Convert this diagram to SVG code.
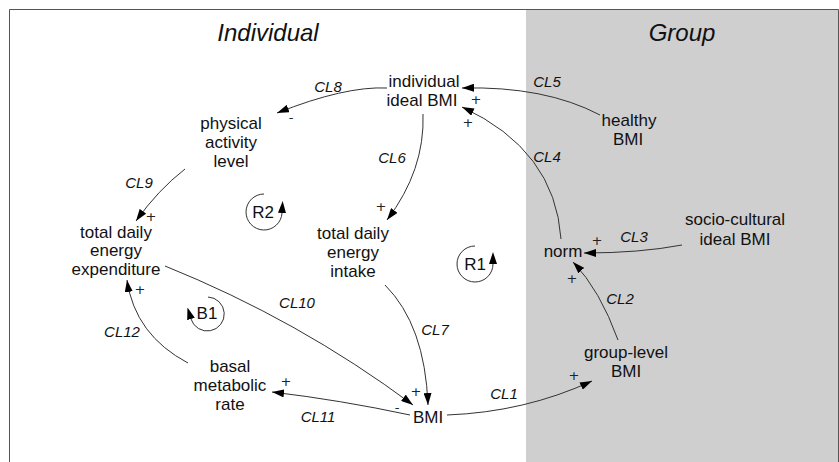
<svg xmlns="http://www.w3.org/2000/svg" width="839" height="462" viewBox="0 0 839 462">
<style>
.n{font-family:"Liberation Sans",Arial,sans-serif;font-size:17px;fill:#111;text-anchor:middle}
.l{font-family:"Liberation Sans",Arial,sans-serif;font-size:15px;font-style:italic;fill:#111;text-anchor:middle}
.t{font-family:"Liberation Sans",Arial,sans-serif;font-size:24px;font-style:italic;fill:#111;text-anchor:middle}
.s{font-family:"DejaVu Sans",sans-serif;font-size:13px;fill:#222;text-anchor:middle}
.c{fill:none;stroke:#333;stroke-width:1}
</style>
<defs>
<marker id="ah" viewBox="0 0 12 8" refX="12" refY="4" markerWidth="12" markerHeight="8" orient="auto" markerUnits="userSpaceOnUse"><path d="M0,0 L12,4 L0,8 z" fill="#000"/></marker>
<marker id="lp" viewBox="0 0 12 8" refX="0" refY="4" markerWidth="12" markerHeight="8" orient="auto" markerUnits="userSpaceOnUse"><path d="M0,0 L12,4 L0,8 z" fill="#000"/></marker>
</defs>
<rect x="0" y="0" width="839" height="462" fill="#fff"/>
<rect x="526" y="9" width="312" height="453" fill="#cfcfcf"/>
<path d="M9.5,462 V9.5 H838.5 V462" fill="none" stroke="#555" stroke-width="1"/>
<text class="t" x="268" y="41">Individual</text>
<text class="t" x="682" y="41">Group</text>

<g id="connectors">
<path class="c" d="M387,88 Q345,86 277,113" marker-end="url(#ah)"/>
<text class="l" x="328" y="92">CL8</text><text class="s" x="291" y="122">-</text>
<path class="c" d="M600,115 Q545,86 462,88" marker-end="url(#ah)"/>
<text class="l" x="547" y="87">CL5</text><text class="s" x="476" y="104">+</text>
<path class="c" d="M561,239 Q555,150 462,107" marker-end="url(#ah)"/>
<text class="l" x="547" y="162">CL4</text><text class="s" x="468" y="127">+</text>
<path class="c" d="M423,114 Q425,170 387,220" marker-end="url(#ah)"/>
<text class="l" x="392" y="163">CL6</text><text class="s" x="381" y="211">+</text>
<path class="c" d="M185,169 Q158,190 136,221" marker-end="url(#ah)"/>
<text class="l" x="139" y="188">CL9</text><text class="s" x="151" y="221">+</text>
<path class="c" d="M165,266 Q299,320 413,405" marker-end="url(#ah)"/>
<text class="l" x="297" y="308">CL10</text><text class="s" x="397" y="412">-</text>
<path class="c" d="M385,285 Q425,325 428,405" marker-end="url(#ah)"/>
<text class="l" x="435" y="335">CL7</text><text class="s" x="416" y="396">+</text>
<path class="c" d="M410,415 Q340,400 272,392" marker-end="url(#ah)"/>
<text class="l" x="318" y="422">CL11</text><text class="s" x="286" y="386">+</text>
<path class="c" d="M188,363 Q135,335 127,280" marker-end="url(#ah)"/>
<text class="l" x="122" y="337">CL12</text><text class="s" x="140" y="294">+</text>
<path class="c" d="M447,415 Q525,412 592,381" marker-end="url(#ah)"/>
<text class="l" x="504" y="399">CL1</text><text class="s" x="574" y="380">+</text>
<path class="c" d="M618,340 Q600,290 573,262" marker-end="url(#ah)"/>
<text class="l" x="620" y="304">CL2</text><text class="s" x="572" y="283">+</text>
<path class="c" d="M682,245 Q640,253 584,253" marker-end="url(#ah)"/>
<text class="l" x="634" y="242">CL3</text><text class="s" x="597" y="245">+</text>
</g>

<g id="loop-R2"><path class="c" d="M264,194 A18,18 0 1 0 282,213" marker-end="url(#lp)"/><text class="n" x="263" y="218">R2</text></g>
<g id="loop-R1"><path class="c" d="M475,246 A18,18 0 1 0 493,264" marker-end="url(#lp)"/><text class="n" x="475" y="270">R1</text></g>
<g id="loop-B1"><path class="c" d="M208,297 A17,17 0 1 1 191,319" marker-end="url(#lp)"/><text class="n" x="207" y="319">B1</text></g>

<g id="individual-ideal-BMI"><text class="n" x="424" y="87">individual</text><text class="n" x="422" y="106">ideal BMI</text></g>
<g id="physical-activity-level"><text class="n" x="231" y="129">physical</text><text class="n" x="231" y="148">activity</text><text class="n" x="231" y="167">level</text></g>
<g id="total-daily-energy-expenditure"><text class="n" x="116" y="238">total daily</text><text class="n" x="116" y="256">energy</text><text class="n" x="116" y="275">expenditure</text></g>
<g id="total-daily-energy-intake"><text class="n" x="353" y="239">total daily</text><text class="n" x="353" y="258">energy</text><text class="n" x="353" y="277">intake</text></g>
<g id="basal-metabolic-rate"><text class="n" x="230" y="372">basal</text><text class="n" x="230" y="391">metabolic</text><text class="n" x="230" y="410">rate</text></g>
<g id="BMI"><text class="n" x="428" y="423">BMI</text></g>
<g id="group-level-BMI"><text class="n" x="626" y="358">group-level</text><text class="n" x="626" y="377">BMI</text></g>
<g id="norm"><text class="n" x="563" y="257">norm</text></g>
<g id="socio-cultural-ideal-BMI"><text class="n" x="735" y="225">socio-cultural</text><text class="n" x="735" y="245">ideal BMI</text></g>
<g id="healthy-BMI"><text class="n" x="629" y="126">healthy</text><text class="n" x="628" y="145">BMI</text></g>
</svg>
